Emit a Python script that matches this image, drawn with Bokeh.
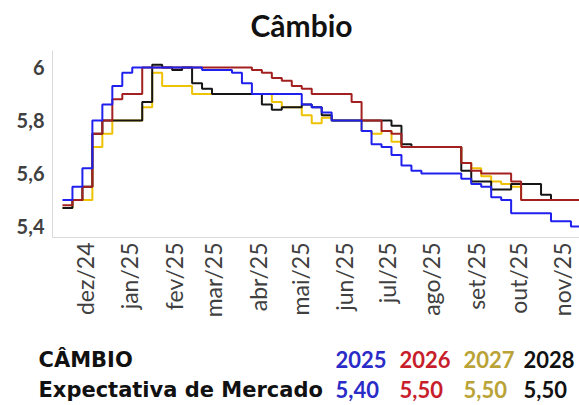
import pandas as pd
from math import pi
from bokeh.plotting import figure
from bokeh.layouts import column
from bokeh.models import ColumnDataSource, Range1d, FixedTicker
from bokeh.core.properties import value
from bokeh.embed import file_html
from bokeh.resources import INLINE

# ---------------- data ----------------
dates = pd.date_range("2024-11-15", periods=53, freq="7D")

cambio_2025 = [5.50, 5.55, 5.62, 5.80, 5.86, 5.93, 5.98, 6.00, 6.00, 6.00,
               6.00, 6.00, 6.00, 6.00, 5.99, 5.99, 5.99, 5.98, 5.94, 5.90,
               5.90, 5.90, 5.90, 5.90, 5.86, 5.85, 5.83, 5.80, 5.80, 5.80,
               5.76, 5.71, 5.70, 5.67, 5.63, 5.61, 5.60, 5.60, 5.60, 5.60,
               5.58, 5.56, 5.55, 5.51, 5.50, 5.45, 5.45, 5.45, 5.45, 5.42,
               5.42, 5.40, 5.40]
cambio_2026 = [5.48, 5.50, 5.55, 5.75, 5.80, 5.88, 5.90, 5.90, 6.00, 6.00,
               6.00, 6.00, 6.00, 6.00, 6.00, 6.00, 6.00, 6.00, 6.00, 5.99,
               5.98, 5.96, 5.95, 5.93, 5.92, 5.90, 5.90, 5.90, 5.90, 5.87,
               5.80, 5.80, 5.76, 5.75, 5.70, 5.70, 5.70, 5.70, 5.70, 5.70,
               5.64, 5.61, 5.60, 5.60, 5.60, 5.57, 5.50, 5.50, 5.50, 5.50,
               5.50, 5.50, 5.50]
cambio_2027 = [5.47, 5.50, 5.50, 5.70, 5.75, 5.80, 5.80, 5.80, 5.85, 5.98,
               5.93, 5.93, 5.93, 5.90, 5.90, 5.90, 5.90, 5.90, 5.90, 5.90,
               5.90, 5.87, 5.85, 5.85, 5.82, 5.79, 5.81, 5.80, 5.80, 5.80,
               5.76, 5.75, 5.76, 5.72, 5.70, 5.70, 5.70, 5.70, 5.70, 5.70,
               5.64, 5.62, 5.59, 5.57, 5.56, 5.55, 5.50, 5.50, 5.50, 5.50,
               5.50, 5.50, 5.50]
cambio_2028 = [5.47, 5.50, 5.55, 5.75, 5.80, 5.80, 5.80, 5.80, 5.87, 6.01,
               6.00, 5.99, 6.00, 5.94, 5.92, 5.90, 5.90, 5.90, 5.90, 5.90,
               5.86, 5.84, 5.85, 5.85, 5.86, 5.85, 5.82, 5.80, 5.80, 5.80,
               5.80, 5.80, 5.80, 5.78, 5.71, 5.70, 5.70, 5.70, 5.70, 5.70,
               5.61, 5.57, 5.57, 5.54, 5.54, 5.56, 5.56, 5.56, 5.52, 5.50,
               5.50, 5.50, 5.50]

month_ticks = ["2024-12-01", "2025-01-01", "2025-02-01", "2025-03-01",
               "2025-04-01", "2025-05-01", "2025-06-01", "2025-07-01",
               "2025-08-01", "2025-09-01", "2025-10-01", "2025-11-01"]
month_labels = ["dez/24", "jan/25", "fev/25", "mar/25", "abr/25", "mai/25",
                "jun/25", "jul/25", "ago/25", "set/25", "out/25", "nov/25"]
y_ticks = [5.4, 5.6, 5.8, 6.0]
y_labels = ["5,4", "5,6", "5,8", "6"]

series_years = ["2025", "2026", "2027", "2028"]
market_expectation = ["5,40", "5,50", "5,50", "5,50"]

title_text = "Câmbio"
table_header = "CÂMBIO"
table_row = "Expectativa de Mercado"

# ---------------- styles / layout ----------------
line_colors = {"2025": "#2020EE", "2026": "#A32020", "2027": "#EEC200", "2028": "#151515"}
text_colors = ["#2B2BC8", "#C81E2C", "#B9A236", "#111111"]
FONT = "Lato"
LABEL_FONT = "DejaVu Sans"
W = 579
H_TITLE, H_MAIN, H_TABLE = 50, 290, 65
BASE_SHIFT = 0.37  # renderer draws alphabetic baseline ~0.37em low


def text_panel(height, top):
    f = figure(width=W, height=height, x_range=Range1d(0, W),
               y_range=Range1d(top + height, top),
               x_axis_location=None, y_axis_location=None,
               output_backend="svg", toolbar_location=None,
               min_border=0, frame_align=False)
    f.grid.visible = False
    f.outline_line_color = None
    f.background_fill_color = "white"
    f.border_fill_color = "white"
    return f


# title
pt = text_panel(H_TITLE, 0)
pt.text(x=[301], y=[36 - BASE_SHIFT * 30], text=[title_text], text_font=value(FONT),
        text_font_size=value("30px"), text_font_style="bold",
        text_color="#111111", text_align="center", text_baseline="alphabetic")

# main chart
src = ColumnDataSource(dict(date=dates, v2025=cambio_2025, v2026=cambio_2026,
                            v2027=cambio_2027, v2028=cambio_2028))

p = figure(width=W, height=H_MAIN, x_axis_type="datetime",
           x_range=Range1d(pd.Timestamp("2024-11-08"), pd.Timestamp("2025-11-13")),
           y_range=Range1d(5.3585, 6.064),
           output_backend="svg", toolbar_location=None, frame_align=False,
           min_border_left=52, min_border_right=0, min_border_top=0,
           min_border_bottom=H_MAIN - 187)
p.grid.visible = False
p.outline_line_color = None
p.background_fill_color = "white"
p.border_fill_color = "white"

for yr in ["2027", "2028", "2026", "2025"]:
    p.step(x="date", y="v" + yr, source=src, mode="after",
           line_width=2, line_color=line_colors[yr])

tick_ms = [float(pd.Timestamp(t).value // 10**6) for t in month_ticks]
p.xaxis.ticker = FixedTicker(ticks=tick_ms)
p.xaxis.major_label_overrides = {t: lab for t, lab in zip(tick_ms, month_labels)}
p.xaxis.major_label_orientation = pi / 2
p.xaxis.major_label_text_font = FONT
p.xaxis.major_label_text_font_size = "23px"
p.xaxis.major_label_text_color = "#404040"
p.xaxis.major_label_standoff = 5

p.yaxis.ticker = FixedTicker(ticks=y_ticks)
p.yaxis.major_label_overrides = {t: lab for t, lab in zip(y_ticks, y_labels)}
p.yaxis.major_label_text_font = FONT
p.yaxis.major_label_text_font_size = "20px"
p.yaxis.major_label_text_font_style = "bold"
p.yaxis.major_label_text_color = "#404040"
p.yaxis.major_label_standoff = 8

for ax in (p.xaxis, p.yaxis):
    ax.axis_line_color = "#D9D9D9"
    ax.axis_line_width = 1
    ax.major_tick_line_color = None
    ax.minor_tick_line_color = None
    ax.major_tick_out = 0
    ax.major_tick_in = 0
    ax.minor_tick_out = 0

# table below
LS, NS = 21, 22  # label / number font sizes
base_y = [367, 397]
top_tab = H_TITLE + H_MAIN
pb = text_panel(H_TABLE, top_tab)
pb.text(x=[38, 38], y=[b - 0.35 * LS for b in base_y], text=[table_header, table_row],
        text_font=value(LABEL_FONT), text_font_size=value(f"{LS}px"), text_font_style="bold",
        text_color="#111111", text_align="left", text_baseline="alphabetic")
col_x = [335, 399, 463, 523]
num_y = [b - BASE_SHIFT * NS for b in base_y]
tab_src = ColumnDataSource(dict(x=col_x + col_x, y=[num_y[0]] * 4 + [num_y[1]] * 4,
                                text=series_years + market_expectation,
                                color=text_colors + text_colors))
pb.text(x="x", y="y", text="text", text_color="color", source=tab_src,
        text_font=value(FONT), text_font_size=value(f"{NS}px"), text_font_style="bold",
        text_align="left", text_baseline="alphabetic")

layout = column(pt, p, pb, spacing=0)
open("out.html", "w").write(file_html(layout, INLINE))
